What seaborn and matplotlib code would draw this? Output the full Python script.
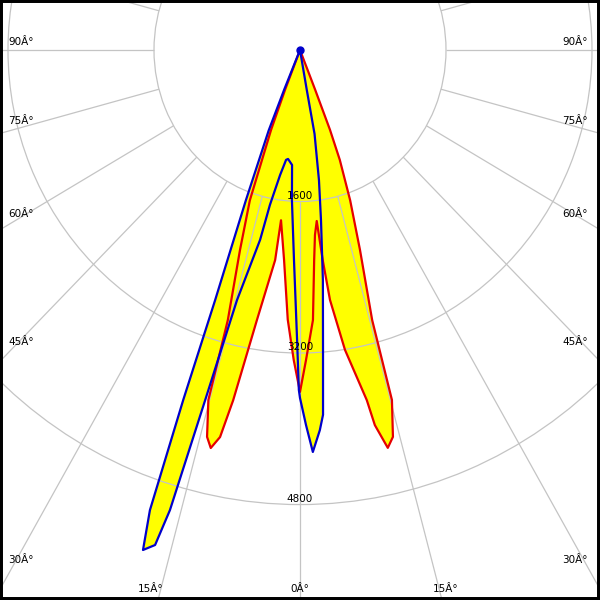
import numpy as np
import matplotlib
matplotlib.use("Agg")
import matplotlib.pyplot as plt
import seaborn as sns
from matplotlib.patches import Rectangle

# photometric data (gamma angle in degrees, intensity in cd)
# C0-C180 plane (red)
red_angle = [-22.0, -21.3, -20.6, -19.1, -17.3, -15.5, -15.2, -14.0, -13.1, -12.1,
             -11.2, -9.4, -7.0, -6.6, -4.5, -2.7, -1.2, 0.0,
             1.15, 2.85, 4.0, 4.8, 5.8, 6.4, 7.1, 8.85, 11.2, 11.7, 12.9,
             14.0, 15.25, 15.5, 17.3, 19.1, 20.6, 21.3, 21.6, 22.0]
red_cd = [0, 450, 900, 1680, 2210, 2960, 3830, 4210, 4315, 4180,
          3770, 2890, 2235, 1810, 2225, 2850, 3275, 3610,
          3275, 2855, 2225, 1960, 1815, 2230, 2660, 3205, 3770, 4045, 4310,
          4210, 3830, 2960, 2210, 1680, 1240, 905, 450, 0]

# C90-C270 plane (blue)
blue_angle = [-22.5, -22.5, -22.0, -20.5, -19.4, -19.1, -18.7, -18.05, -16.9, -16.35,
              -15.7, -14.65, -12.3, -11.4, -9.4, -7.5, -6.5, -4.1, -3.2, -1.7,
              -0.6, -0.2, 0.0, 0.95, 1.9, 3.1, 3.75, 4.55, 5.9, 7.3,
              8.6, 10.2, 10.0, 10.0]
blue_cd = [0, 450, 915, 1690, 2800, 3910, 5130, 5553, 5463, 5063,
           3840, 2730, 2050, 1670, 1340, 1170, 1158, 1217, 1586, 2220,
           3060, 3590, 3675, 3960, 4247, 4020, 3860, 3180, 2440, 1810,
           1390, 900, 430, 0]

ring_values = [1600, 3200, 4800]
ring_labels = ["1600", "3200", "4800"]
spoke_angles = list(range(0, 360, 15))

left_labels = ["90Â°", "75Â°", "60Â°", "45Â°", "30Â°"]
left_label_y = [42, 121, 214, 342, 560]
bottom_labels = ["15Â°", "0Â°", "15Â°"]
bottom_label_x = [151, 300, 446]

sns.set_style("white")
plt.rcParams["font.family"] = ["DejaVu Sans"]
plt.rcParams["text.color"] = "black"

W, H = 600, 600
fig = plt.figure(figsize=(6, 6), dpi=100)

# pixel scale per cd (the picture is slightly stretched vertically)
sx, sy = 0.09125, 0.0947
rmax = 7000
cx, cy = 300, 550
hw, hh = rmax * sx, rmax * sy
ax = fig.add_axes([(cx - hw) / W, (cy - hh) / H, 2 * hw / W, 2 * hh / H], projection="polar")
ax.set_aspect("auto")
ax.set_theta_zero_location("S")
ax.set_theta_direction(1)
ax.set_rlim(0, rmax)
ax.spines["polar"].set_visible(False)
ax.set_axisbelow("line")

grid_col = "#c4c4c4"
ax.set_rticks(ring_values)
ax.set_yticklabels([])
ax.set_xticks([])
ax.yaxis.grid(True, color=grid_col, lw=0.9)
ax.xaxis.grid(False)
ax.vlines(np.deg2rad(spoke_angles), 1600, rmax, color=grid_col, lw=0.9, zorder=1.5)

red_t = np.deg2rad(red_angle)
blue_t = np.deg2rad(blue_angle)
ax.fill(red_t, red_cd, color="#ffff00", lw=0, zorder=1)
ax.fill(blue_t, blue_cd, color="#ffff00", lw=0, zorder=1)

sns.lineplot(x=red_t, y=red_cd, ax=ax, sort=False, estimator=None,
             color="#e60000", lw=1.6, zorder=3)
sns.lineplot(x=blue_t, y=blue_cd, ax=ax, sort=False, estimator=None,
             color="#0000cc", lw=1.6, zorder=4)
ax.plot(blue_t[0], blue_cd[0], "o", color="#0000cc", ms=5, zorder=4)

for v, lab in zip(ring_values, ring_labels):
    ax.annotate(lab, xy=(0, v), xytext=(0, 1), textcoords="offset pixels",
                ha="center", va="bottom", fontsize=7.5, color="black", zorder=6)

for lab, y in zip(left_labels, left_label_y):
    fig.text(8 / W, 1 - y / H, lab, ha="left", va="center", fontsize=7.5)
    fig.text(588 / W, 1 - y / H, lab, ha="right", va="center", fontsize=7.5)
for lab, x in zip(bottom_labels, bottom_label_x):
    fig.text(x / W, 1 - 589 / H, lab, ha="center", va="center", fontsize=7.5)

fig.patches.append(Rectangle((0, 0), 1, 1, transform=fig.transFigure, fill=False,
                             ec="black", lw=4.3, zorder=10))

fig.savefig("out.png", dpi=100, facecolor="white")
